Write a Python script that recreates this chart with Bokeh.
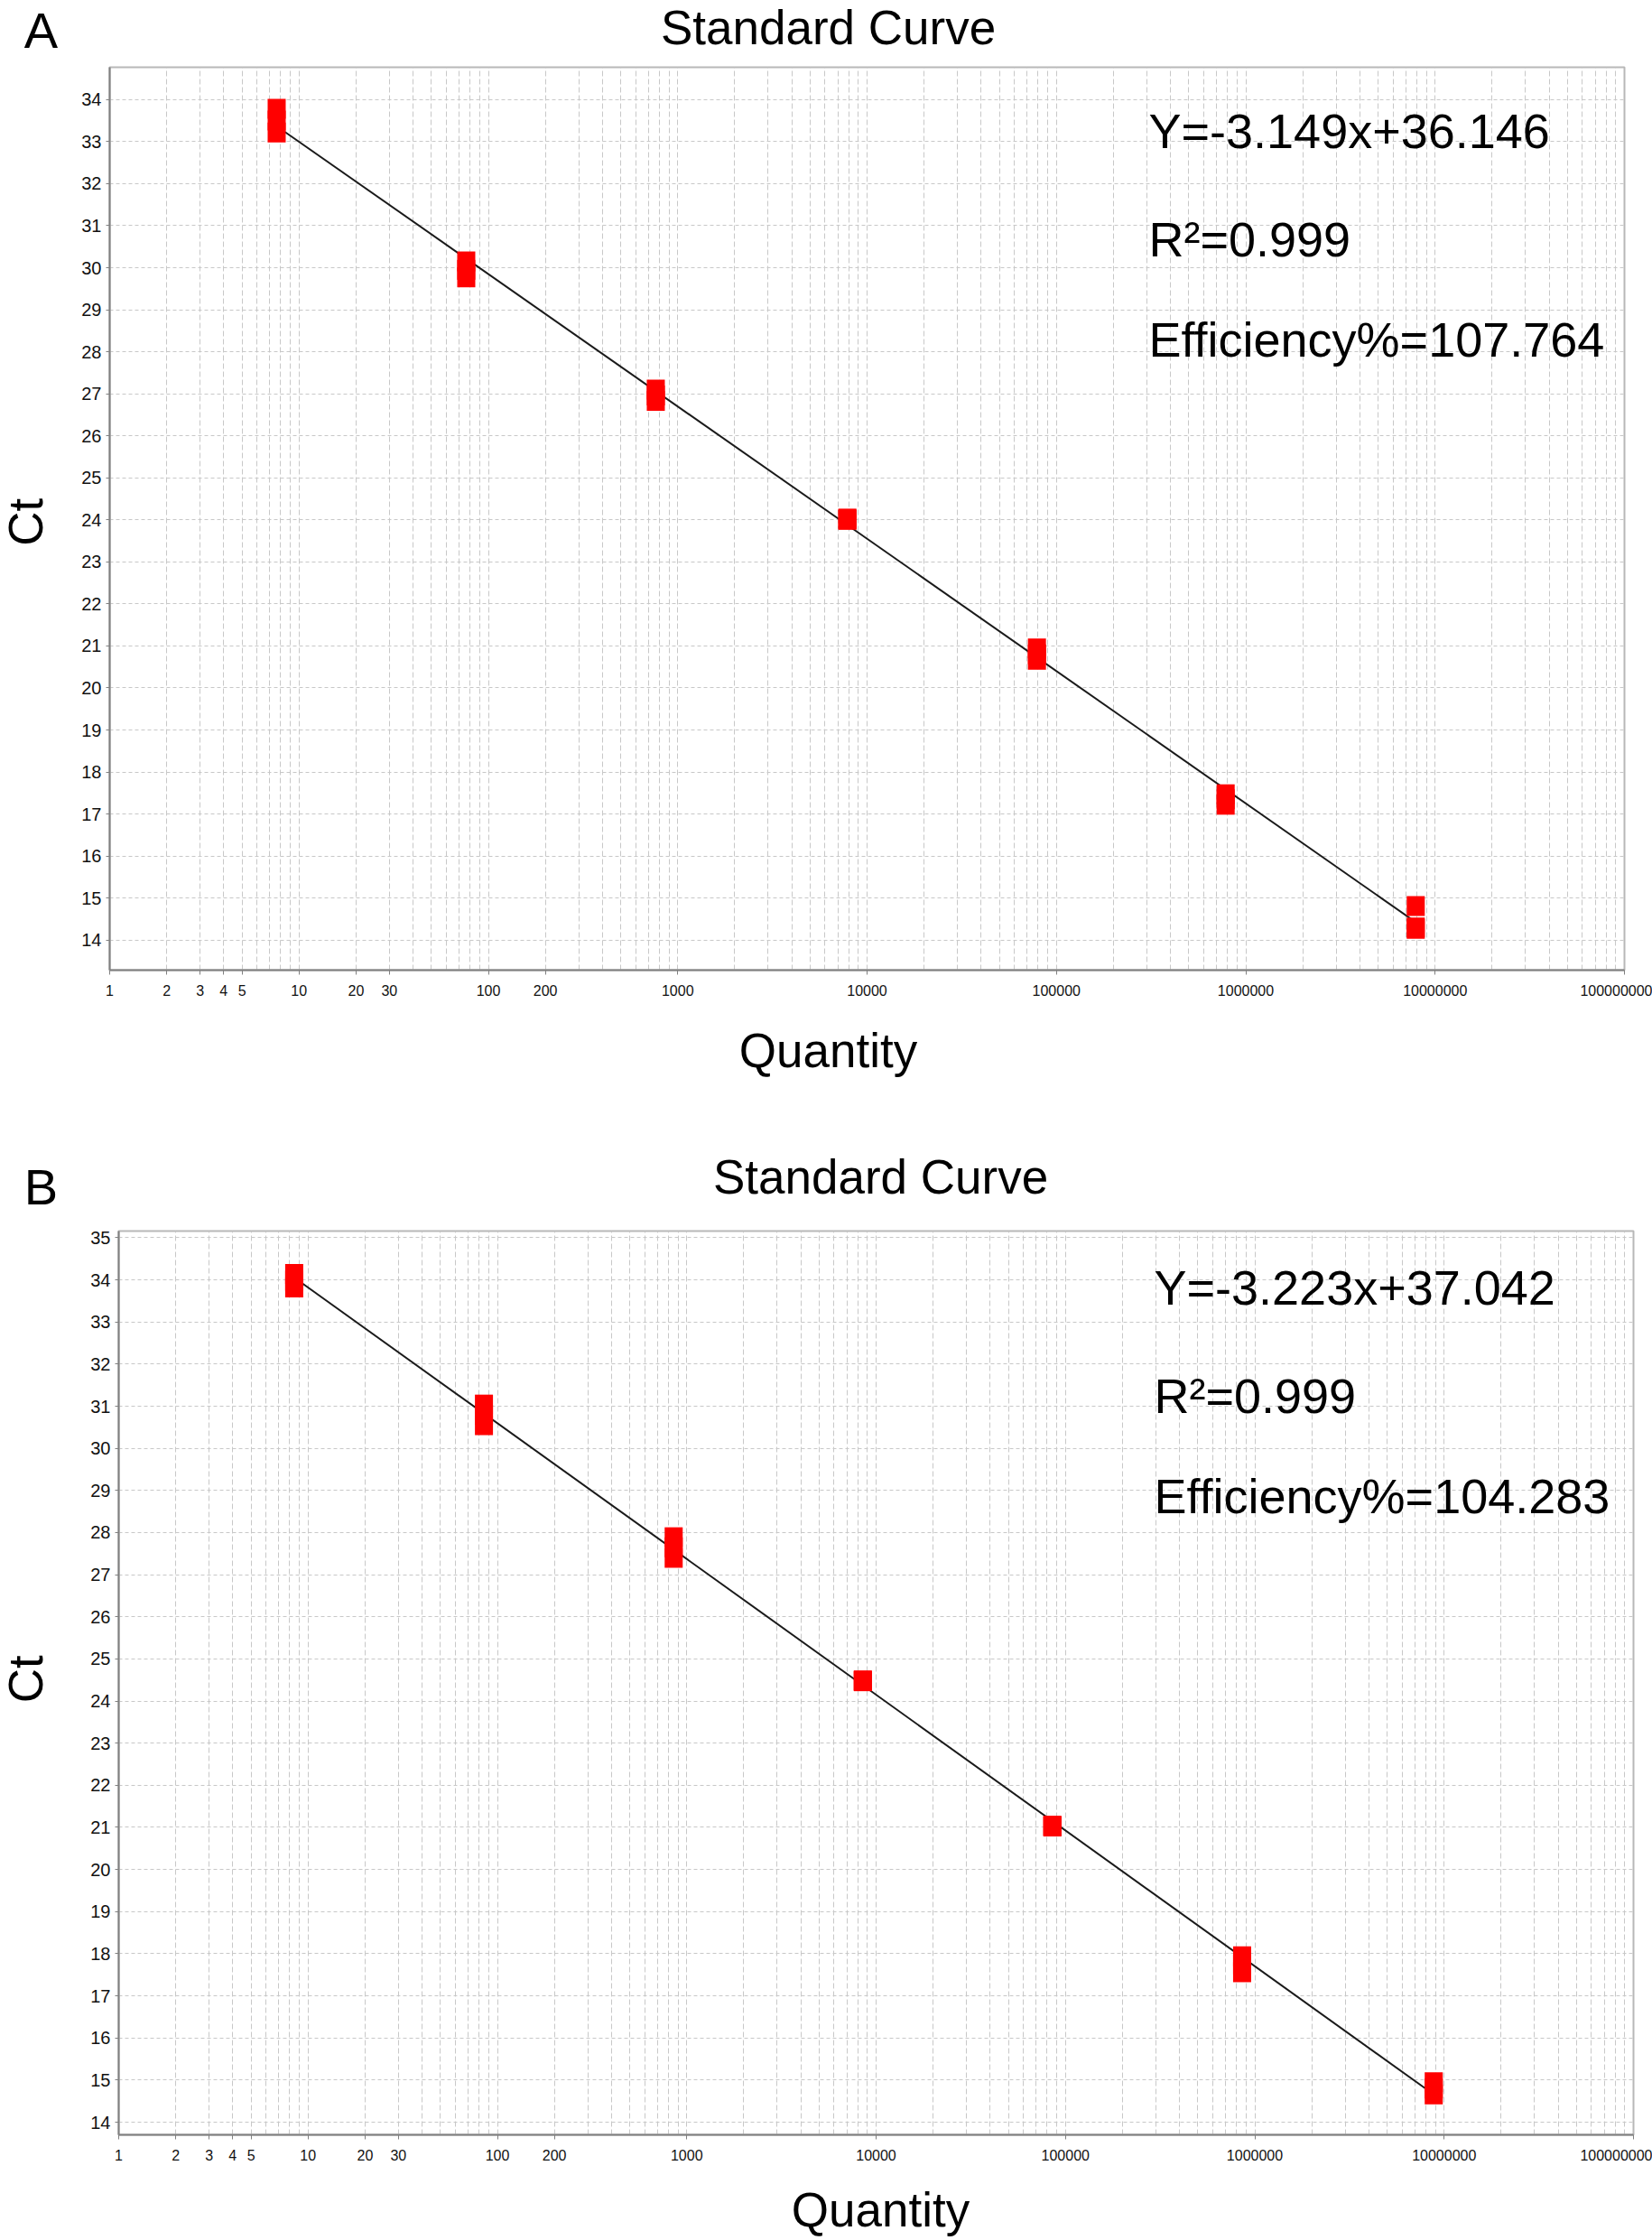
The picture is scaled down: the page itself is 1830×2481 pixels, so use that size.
import math
from bokeh.plotting import figure
from bokeh.layouts import column, row
from bokeh.models import Range1d, FixedTicker, NumeralTickFormatter, Label, ColumnDataSource
from bokeh.core.properties import value
from bokeh.embed import file_html
from bokeh.resources import INLINE

FONT = "Liberation Sans"
TOTAL_W = 1830
STRIP_W = 60

# ---------------- data: panel A ----------------
a_quantity = [7.62, 76.4, 766, 7870, 78900, 783000, 7900000]
a_ct_rep1 = [33.78, 30.15, 27.10, 24.03, 20.94, 17.47, 14.81]
a_ct_rep2 = [33.50, 29.95, 26.96, 24.01, 20.80, 17.35, 14.27]
a_ct_rep3 = [33.22, 29.77, 26.83, 24.00, 20.67, 17.22, 14.30]
a_slope = -3.149
a_intercept = 36.146
a_r2_text = "0.999"
a_eff_text = "107.764"
a_y_ticks = list(range(14, 35))

# ---------------- data: panel B ----------------
b_quantity = [8.45, 84.9, 853, 8510, 85300, 857000, 8810000]
b_ct_rep1 = [34.14, 31.04, 27.89, 24.48, 21.03, 17.94, 14.95]
b_ct_rep2 = [33.98, 30.80, 27.65, 24.49, 21.04, 17.75, 14.80]
b_ct_rep3 = [33.82, 30.55, 27.40, 24.47, 21.02, 17.56, 14.66]
b_slope = -3.223
b_intercept = 37.042
b_r2_text = "0.999"
b_eff_text = "104.283"
b_y_ticks = list(range(14, 36))

# ---------------- axis ticks ----------------
x_tick_values = [1, 2, 3, 4, 5, 10, 20, 30, 100, 200, 1000, 10000, 100000,
                 1000000, 10000000, 100000000]
x_grid_values = [m * 10 ** k for k in range(8) for m in range(1, 10)] + [100000000]


def text_box(width, height, items):
    """A blank figure whose frame is the whole canvas (pixel coordinates, y up)."""
    f = figure(width=width, height=height, x_range=Range1d(0, width),
               y_range=Range1d(0, height), output_backend="svg",
               toolbar_location=None, min_border=0,
               x_axis_location=None, y_axis_location=None)
    f.outline_line_color = None
    f.xgrid.visible = False
    f.ygrid.visible = False
    f.background_fill_color = "white"
    f.border_fill_color = "white"
    for (txt, x, y, size, angle) in items:
        f.text(x=[x], y=[y], text=[txt], text_font=value(FONT),
               text_font_size=value(size), text_color="black",
               text_align="center", text_baseline="middle", angle=angle)
    return f


def main_plot(quantity, reps, slope, intercept, r2_text, eff_text, y_ticks,
              height, y_lo, y_hi, border, eq_pos):
    p = figure(width=TOTAL_W - STRIP_W, height=height, x_axis_type="log",
               x_range=Range1d(1, 1e8), y_range=Range1d(y_lo, y_hi),
               output_backend="svg", toolbar_location=None,
               min_border_left=border[0], min_border_right=border[1],
               min_border_top=border[2], min_border_bottom=border[3])
    p.background_fill_color = "white"
    p.border_fill_color = "white"
    p.outline_line_color = "#b8b8b8"
    p.outline_line_width = 2

    p.xaxis.ticker = FixedTicker(ticks=x_tick_values)
    p.xaxis.formatter = NumeralTickFormatter(format="0")
    p.yaxis.ticker = FixedTicker(ticks=y_ticks)
    for ax in (p.xaxis, p.yaxis):
        ax.axis_line_color = "#808080"
        ax.axis_line_width = 2
        ax.major_tick_line_color = "#808080"
        ax.major_tick_line_width = 1
        ax.major_tick_in = 0
        ax.minor_tick_line_color = None
        ax.major_label_text_font = FONT
        ax.major_label_text_color = "#111111"
    p.xaxis.major_tick_out = 5
    p.xaxis.major_label_text_font_size = "16px"
    p.xaxis.major_label_standoff = 11
    p.yaxis.major_tick_out = 4
    p.yaxis.major_label_text_font_size = "20px"
    p.yaxis.major_label_standoff = 5

    p.xgrid.ticker = FixedTicker(ticks=x_grid_values)
    p.xgrid.grid_line_color = "#c8c8c8"
    p.xgrid.grid_line_dash = "6 3"
    p.xgrid.grid_line_width = 1
    p.ygrid.grid_line_color = "#c8c8c8"
    p.ygrid.grid_line_dash = "4 3"
    p.ygrid.grid_line_width = 1

    q_lo, q_hi = min(quantity), max(quantity)
    line_src = ColumnDataSource(dict(
        x=[q_lo, q_hi],
        y=[slope * math.log10(q_lo) + intercept, slope * math.log10(q_hi) + intercept]))
    p.line("x", "y", source=line_src, line_color="#1a1a1a", line_width=2)

    for rep in reps:
        src = ColumnDataSource(dict(x=quantity, y=rep))
        p.rect("x", "y", source=src, width=20, height=22,
               width_units="screen", height_units="screen",
               fill_color="#ff0000", line_color=None)

    sign = "+" if intercept >= 0 else "-"
    eq = "Y=%.3fx%s%.3f" % (slope, sign, abs(intercept))
    for txt, yy in zip([eq, "R\u00b2=" + r2_text, "Efficiency%=" + eff_text], eq_pos[1]):
        p.add_layout(Label(x=eq_pos[0], y=yy, x_units="screen", y_units="screen",
                           text=txt, text_font=FONT, text_font_size="54px",
                           text_color="black", text_align="left",
                           text_baseline="middle"))
    return p


# ---------------- panel A ----------------
hA = 70
mA = 1054
fA = 125
headA = text_box(TOTAL_W, hA, [("A", 45, 37, "56px", 0.0),
                               ("Standard Curve", 917, 40, "53px", 0.0)])
stripA = text_box(STRIP_W, mA, [("Ct", 28, 523, "53px", math.pi / 2)])
mainA = main_plot(a_quantity, [a_ct_rep1, a_ct_rep2, a_ct_rep3], a_slope, a_intercept,
                  a_r2_text, a_eff_text, a_y_ticks, mA, 13.285, 34.77,
                  (61, 31, 4, 50), (1151, (930, 810, 699)))
footA = text_box(TOTAL_W, fA, [("Quantity", 917, 86, "53px", 0.0)])

# ---------------- panel B ----------------
hB = 110
mB = 1055
fB = 67
headB = text_box(TOTAL_W, hB, [("B", 45, 45, "56px", 0.0),
                               ("Standard Curve", 975, 56, "53px", 0.0)])
stripB = text_box(STRIP_W, mB, [("Ct", 28, 532, "53px", math.pi / 2)])
mainB = main_plot(b_quantity, [b_ct_rep1, b_ct_rep2, b_ct_rep3], b_slope, b_intercept,
                  b_r2_text, b_eff_text, b_y_ticks, mB, 13.70, 35.16,
                  (71, 21, 4, 50), (1147, (939, 819, 708)))
footB = text_box(TOTAL_W, fB, [("Quantity", 975, 34, "53px", 0.0)])

layout = column(headA, row(stripA, mainA), footA,
                headB, row(stripB, mainB), footB)
open("out.html", "w").write(file_html(layout, INLINE))
